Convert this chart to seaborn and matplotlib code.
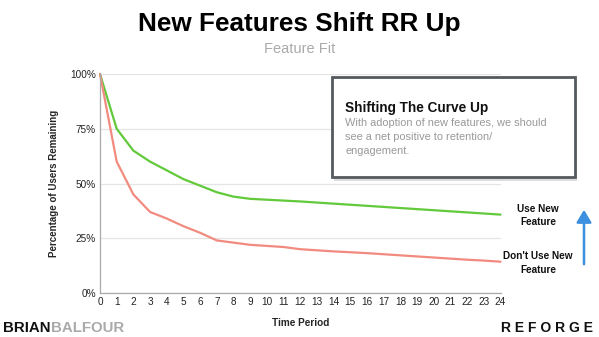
import matplotlib
matplotlib.use("Agg")
import matplotlib.pyplot as plt
import seaborn as sns
import pandas as pd
from matplotlib.patches import FancyArrowPatch, Rectangle

periods = list(range(25))
use_new = [100, 75, 65, 60, 56, 52, 49, 46, 44, 43, 42.6, 42.2, 41.8, 41.3, 40.8,
           40.3, 39.8, 39.3, 38.8, 38.3, 37.8, 37.3, 36.8, 36.3, 35.8]
dont_use = [100, 60, 45, 37, 34, 30.5, 27.5, 24, 23, 22, 21.5, 21, 20, 19.5, 19,
            18.6, 18.2, 17.7, 17.2, 16.7, 16.2, 15.7, 15.2, 14.8, 14.3]
series_names = ["Use New Feature", "Don't Use New Feature"]
y_ticks = [0, 25, 50, 75, 100]
y_tick_labels = ["0%", "25%", "50%", "75%", "100%"]

df = pd.DataFrame({
    "period": periods * 2,
    "value": use_new + dont_use,
    "series": [series_names[0]] * 25 + [series_names[1]] * 25,
})

sns.set_theme(style="white")
plt.rcParams["font.family"] = ["Liberation Sans", "DejaVu Sans"]

fig = plt.figure(figsize=(5.99, 3.37), dpi=100)
ax = fig.add_axes([100 / 599, 1 - 293 / 337, 400.5 / 599, 219 / 337])

sns.lineplot(data=df, x="period", y="value", hue="series",
             palette={series_names[0]: "#62c93a", series_names[1]: "#f28b7f"},
             linewidth=1.6, ax=ax, legend=False, clip_on=False)

ax.set_xlim(0, 24)
ax.set_ylim(0, 100)
ax.set_xticks(periods)
ax.set_xticklabels([str(p) for p in periods], fontsize=7.2, color="#222222")
ax.set_yticks(y_ticks)
ax.set_yticklabels(y_tick_labels, fontsize=7.2, color="#222222")
ax.tick_params(axis="both", length=0, pad=3)
ax.grid(axis="y", color="#e4e4e4", linewidth=0.9)
ax.set_axisbelow(True)
for s in ["top", "right"]:
    ax.spines[s].set_visible(False)
for s in ["left", "bottom"]:
    ax.spines[s].set_color("#aaaaaa")
    ax.spines[s].set_linewidth(0.9)
ax.set_xlabel("Time Period", fontsize=7.2, fontweight="bold", labelpad=8)
ax.set_ylabel("Percentage of Users Remaining", fontsize=7.0, fontweight="bold", labelpad=8)

# Titles
fig.text(0.5, 1 - 24.5 / 337, "New Features Shift RR Up", ha="center", va="center",
         fontsize=18.8, fontweight="bold", color="#000000")
fig.text(0.5, 1 - 49 / 337, "Feature Fit", ha="center", va="center",
         fontsize=10.5, color="#aaaaaa")

# Annotation box with shadow
bx0, by0, bx1, by1 = 332, 77, 575, 177
shadow = Rectangle((bx0 / 599 + 0.004, 1 - (by1 + 4) / 337), (bx1 - bx0) / 599, (by1 - by0) / 337,
                   transform=fig.transFigure, facecolor="#dddddd", edgecolor="none", zorder=4)
fig.patches.append(shadow)
box = Rectangle((bx0 / 599, 1 - by1 / 337), (bx1 - bx0) / 599, (by1 - by0) / 337,
                transform=fig.transFigure, facecolor="white", edgecolor="#555a5e",
                linewidth=2, zorder=5)
fig.patches.append(box)
fig.text(345 / 599, 1 - 107.5 / 337, "Shifting The Curve Up", ha="left", va="center",
         fontsize=9.8, fontweight="bold", color="#111111", zorder=6)
fig.text(345 / 599, 1 - 137 / 337,
         "With adoption of new features, we should\nsee a net positive to retention/\nengagement.",
         ha="left", va="center", fontsize=7.9, color="#999999", linespacing=1.46, zorder=6)

# Series labels
fig.text(538 / 599, 1 - 215.5 / 337, "Use New\nFeature", ha="center", va="center",
         fontsize=7.2, fontweight="bold", color="#111111", linespacing=1.4)
fig.text(538 / 599, 1 - 263 / 337, "Don't Use New\nFeature", ha="center", va="center",
         fontsize=7.2, fontweight="bold", color="#111111", linespacing=1.4)

# Blue arrow
arrow = FancyArrowPatch((584 / 599, 1 - 267 / 337), (584 / 599, 1 - 207 / 337),
                        transform=fig.transFigure, arrowstyle="-|>,head_length=5,head_width=3",
                        color="#3d8fe0", linewidth=1.8, mutation_scale=1.5)
fig.patches.append(arrow)

# Footer
t = fig.text(3 / 599, 1 - 328.5 / 337, "BRIAN", ha="left", va="center",
             fontsize=10.8, fontweight="bold", color="#111111")
fig.canvas.draw()
bb = t.get_window_extent()
fig.text(bb.x1 / 599, 1 - 328.5 / 337, "BALFOUR", ha="left", va="center",
         fontsize=10.8, fontweight="bold", color="#aaaaaa")
fig.text(593 / 599, 1 - 328 / 337, "R E F O R G E", ha="right", va="center",
         fontsize=10, fontweight="bold", color="#111111")

fig.savefig("out.png", dpi=100)
